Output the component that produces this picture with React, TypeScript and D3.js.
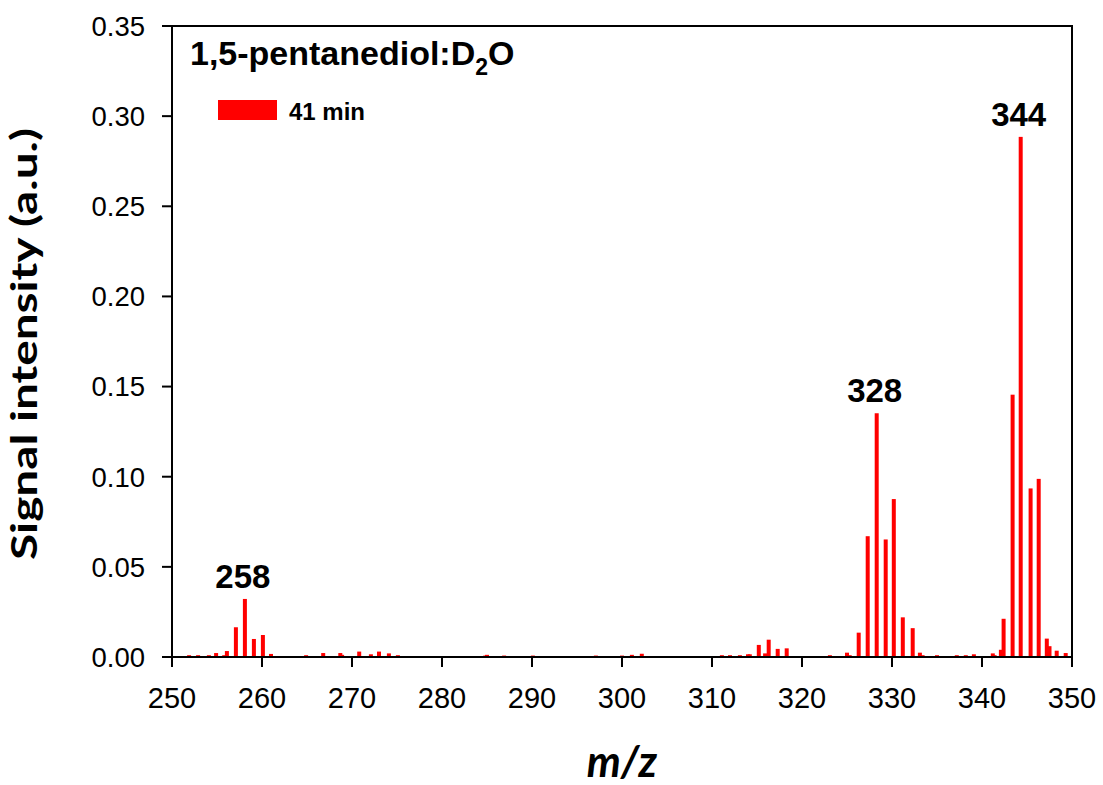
import React from "react";
import * as d3 from "d3";

// Mass spectrum peaks: m/z positions and signal intensities (a.u.)
const mzValues: number[] = [
  251.9, 252.9, 254.1, 254.9, 255.8, 256.1, 257.1, 258.1, 259.1, 260.1, 261.0,
  264.9, 266.8, 268.7, 268.9, 270.8, 272.1, 273.0, 274.1, 275.1,
  284.8, 285.0, 286.9, 290.1, 297.1, 300.0, 301.1, 302.2,
  311.1, 312.0, 313.1, 314.0, 314.2, 315.2, 315.9, 316.3, 317.3, 318.3,
  323.1, 325.0, 325.3, 326.3, 327.3, 328.3, 329.3, 330.2, 331.2, 332.3, 333.1, 333.4,
  335.0, 337.2, 338.2, 339.1, 341.2, 341.4, 342.1, 342.4, 343.4, 344.3, 345.4, 346.3,
  347.2, 347.5, 348.3, 349.3,
];
const intensities: number[] = [
  0.001, 0.001, 0.001, 0.0022, 0.001, 0.0033, 0.0165, 0.0322, 0.01, 0.0122, 0.0017,
  0.001, 0.0022, 0.0022, 0.0012, 0.003, 0.0015, 0.003, 0.002, 0.001,
  0.0008, 0.0012, 0.0008, 0.0008, 0.0008, 0.0008, 0.0012, 0.0018,
  0.001, 0.001, 0.001, 0.0015, 0.0015, 0.0067, 0.002, 0.0096, 0.0045, 0.0048,
  0.001, 0.0024, 0.001, 0.0135, 0.067, 0.1352, 0.0652, 0.0876, 0.022, 0.016, 0.0024, 0.001,
  0.001, 0.001, 0.001, 0.0015, 0.002, 0.001, 0.004, 0.0212, 0.1455, 0.2885, 0.0935, 0.0988,
  0.0102, 0.006, 0.0035, 0.0022,
];

// Annotated peaks (label text and the m/z of the bar they sit above)
const peakLabels: string[] = ["258", "328", "344"];
const peakMz: number[] = [258.1, 328.3, 344.3];

const xTicks: number[] = [250, 260, 270, 280, 290, 300, 310, 320, 330, 340, 350];
const yTicks: number[] = [0, 0.05, 0.1, 0.15, 0.2, 0.25, 0.3, 0.35];

const seriesName = "41 min";

const W = 1103;
const H = 785;
const left = 172;
const right = 1072;
const top = 26;
const bottom = 657;

const ARIAL = "'Liberation Sans', Arial, sans-serif";
const CALIBRI = "Lato, 'Open Sans', sans-serif";

export default function App() {
  const x = d3.scaleLinear().domain([250, 350]).range([left, right]);
  const y = d3.scaleLinear().domain([0, 0.35]).range([bottom, top]);
  const barW = 4;
  const red = "#ff0000";

  const bars = mzValues.map((m, i) => ({ m, v: intensities[i] }));

  return (
    <svg
      width={W}
      height={H}
      viewBox={`0 0 ${W} ${H}`}
      style={{ position: "absolute", left: 0, top: 0, background: "#fff" }}
    >
      {/* spectrum bars */}
      <g>
        {bars.map((b, i) => (
          <rect
            key={i}
            x={x(b.m) - barW / 2}
            y={y(b.v)}
            width={barW}
            height={y(0) - y(b.v)}
            fill={red}
          />
        ))}
      </g>

      {/* peak annotations */}
      {peakLabels.map((lab, i) => {
        const idx = mzValues.indexOf(peakMz[i]);
        const v = intensities[idx];
        return (
          <text
            key={lab}
            x={x(peakMz[i]) - 2}
            y={y(v) - 11}
            textAnchor="middle"
            fontFamily={ARIAL}
            fontWeight="bold"
            fontSize={33}
            fill="#000"
          >
            {lab}
          </text>
        );
      })}

      {/* frame */}
      <rect
        x={left}
        y={top}
        width={right - left}
        height={bottom - top}
        fill="none"
        stroke="#000"
        strokeWidth={2}
      />

      {/* y axis ticks and labels */}
      {yTicks.map((t) => (
        <g key={t}>
          <line x1={left - 10} x2={left} y1={y(t)} y2={y(t)} stroke="#000" strokeWidth={2} />
          <text
            x={145}
            y={y(t)}
            dy="0.36em"
            textAnchor="end"
            fontFamily={ARIAL}
            fontSize={27.5}
            fill="#000"
          >
            {t.toFixed(2)}
          </text>
        </g>
      ))}

      {/* x axis ticks and labels */}
      {xTicks.map((t) => (
        <g key={t}>
          <line x1={x(t)} x2={x(t)} y1={bottom} y2={bottom + 10} stroke="#000" strokeWidth={2} />
          <text
            x={x(t)}
            y={708}
            textAnchor="middle"
            fontFamily={ARIAL}
            fontSize={29}
            fill="#000"
          >
            {t}
          </text>
        </g>
      ))}

      {/* axis titles */}
      <text
        transform={`translate(37, 344) rotate(-90)`}
        textAnchor="middle"
        fontFamily={CALIBRI}
        fontWeight="bold"
        fontSize={36}
        textLength={432}
        lengthAdjust="spacingAndGlyphs"
        fill="#000"
      >
        Signal intensity (a.u.)
      </text>
      <text
        x={622}
        y={777}
        textAnchor="middle"
        fontFamily={CALIBRI}
        fontWeight="bold"
        fontStyle="italic"
        fontSize={43}
        fill="#000"
      >
        m/z
      </text>

      {/* panel title */}
      <text x={190} y={65} fontFamily={ARIAL} fontWeight="bold" fontSize={34} fill="#000">
        1,5-pentanediol:D
        <tspan fontSize={23} dy={10}>2</tspan>
        <tspan dy={-10}>O</tspan>
      </text>

      {/* legend */}
      <rect x={218} y={100} width={59} height={20} fill={red} />
      <text x={289} y={120} fontFamily={ARIAL} fontWeight="bold" fontSize={24} fill="#000">
        {seriesName}
      </text>
    </svg>
  );
}
